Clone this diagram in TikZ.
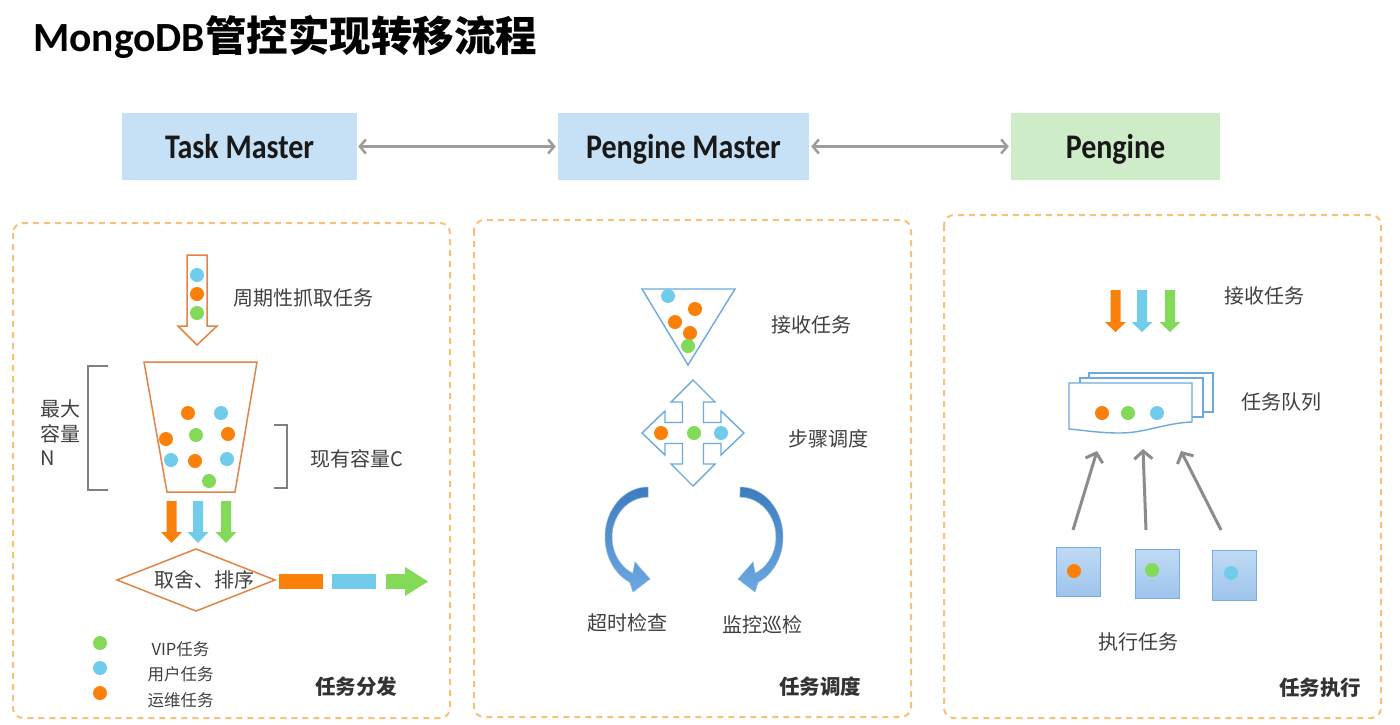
\documentclass[tikz,border=0pt]{standalone}
\usepackage{fontspec}
\setmainfont{Noto Sans CJK SC}
\newfontfamily\carl{Carlito}
\usetikzlibrary{arrows.meta}
\definecolor{dotO}{RGB}{250,128,10}
\definecolor{dotB}{RGB}{112,204,234}
\definecolor{dotG}{RGB}{130,218,88}
\definecolor{panelc}{RGB}{248,192,120}
\definecolor{boxblue}{RGB}{198,224,245}
\definecolor{boxgreen}{RGB}{207,236,201}
\definecolor{outO}{RGB}{226,132,70}
\definecolor{outB}{RGB}{108,170,222}
\definecolor{txt}{RGB}{64,64,64}
\definecolor{arrg}{RGB}{140,140,140}
\definecolor{brk}{RGB}{128,128,128}
\definecolor{curvetop}{RGB}{62,124,190}
\definecolor{curvebot}{RGB}{108,168,224}
\definecolor{sqtop}{RGB}{192,218,244}
\definecolor{sqbot}{RGB}{158,196,236}
\definecolor{sqborder}{RGB}{125,172,222}
\tikzset{
  panel/.style={draw=panelc, line width=2pt, dash pattern=on 6pt off 5pt, rounded corners=10pt},
  master/.style={minimum height=67pt, inner sep=0pt, text=black!90, text height=23pt, text depth=0pt,
    font=\carl\bfseries\fontsize{30}{36}\selectfont},
  lbl/.style={text=txt, font=\fontsize{20}{24}\selectfont, inner sep=0pt},
  lblb/.style={text=black!80, font=\fontsize{20.5}{24}\selectfont\bfseries, inner sep=0pt},
  legend/.style={text=txt, font=\fontsize{16.5}{20}\selectfont, inner sep=0pt},
  outlineO/.style={draw=outO, line width=1.5pt},
  outlineB/.style={draw=outB, line width=1.4pt},
  darrow/.style={draw=arrg!85, line width=2.5pt, {Straight Barb[length=6pt,width=14pt]}-{Straight Barb[length=6pt,width=14pt]}},
  garrow/.style={draw=arrg, line width=3pt, -{Straight Barb[length=8pt,width=18pt]}},
  curvearr/.style={top color=curvetop, bottom color=curvebot, draw=curvebot!80!white, line width=0.5pt},
  sq/.style={top color=sqtop, bottom color=sqbot, draw=sqborder, line width=1pt}
}
\newcommand\tdot[3]{\fill[#3] (#1,#2) circle[radius=7];}
\newcommand\sarrow[5]{\fill[#5] ({#1-5},#2) -- ({#1+5},#2) -- ({#1+5},#3) -- ({#1+10.5},#3) -- (#1,#4) -- ({#1-10.5},#3) -- ({#1-5},#3) -- cycle;}
\newcommand\mtext[1]{\scalebox{1}[1.15]{#1}}
\begin{document}
\begin{tikzpicture}[x=1pt,y=-1pt]
\useasboundingbox[fill=white] (0,0) rectangle (1400,724);

% title
\node[anchor=base west, inner sep=0pt, text=black] (title) at (33,51)
  {\fontsize{41.5}{48}\selectfont\bfseries{\carl MongoDB}管控实现转移流程};

% master boxes
\node[master, fill=boxblue, minimum width=235pt] (tm) at (239.5,146.5) {\mtext{Task Master}};
\node[master, fill=boxblue, minimum width=251pt] (pm) at (683.5,146.5) {\mtext{Pengine Master}};
\node[master, fill=boxgreen, minimum width=209pt] (pe) at (1115.5,146.5) {\mtext{Pengine}};
\draw[darrow] ([xshift=1pt]tm.east) -- ([xshift=-2pt]pm.west);
\draw[darrow] ([xshift=2pt]pm.east) -- ([xshift=-2pt]pe.west);

% panels
\draw[panel] (13,223) rectangle (450,718);
\draw[panel] (474,220) rectangle (911,717);
\draw[panel] (944,215) rectangle (1381,718);

% ---------- panel 1 ----------
\draw[outlineO] (187,255) -- (207,255) -- (207,326) -- (217,326) -- (197,345) -- (178,326) -- (187,326) -- cycle;
\tdot{197}{275}{dotB}
\tdot{197}{294}{dotO}
\tdot{197}{313}{dotG}
\node[lbl] (fetch) at (303,298) {周期性抓取任务};

\draw[outlineO] (144,362) -- (257,362) -- (235,492) -- (167,492) -- cycle;
\tdot{188}{413}{dotO}
\tdot{221}{413}{dotB}
\tdot{166}{439}{dotO}
\tdot{196}{435}{dotG}
\tdot{228}{434}{dotO}
\tdot{171}{460}{dotB}
\tdot{195}{461}{dotO}
\tdot{227}{459}{dotB}
\tdot{209}{481}{dotG}

\draw[brk, line width=2.6pt] (108,366) -- (88,366) -- (88,490) -- (108,490);
\draw[brk, line width=2.6pt] (274,425) -- (287,425) -- (287,488) -- (274,488);
\node[lbl, anchor=west] (maxa) at (40,409) {最大};
\node[lbl, anchor=west] (maxb) at (40,433.5) {容量};
\node[lbl, anchor=west] (maxc) at (40,458) {N};
\node[lbl] (cur) at (357,459) {现有容量C};

\sarrow{171.5}{501}{532}{543}{dotO}
\sarrow{198}{501}{532}{543}{dotB}
\sarrow{226}{501}{532}{543}{dotG}

\draw[outlineO] (117,580) -- (196,549) -- (275,580) -- (196,611) -- cycle;
\node[lbl] (sel) at (204,580) {取舍、排序};
\fill[dotO] (279,574) rectangle (323,589);
\fill[dotB] (332,574) rectangle (376,589);
\fill[dotG] (386,574) -- (405,574) -- (405,567) -- (428,581.5) -- (405,596) -- (405,589) -- (386,589) -- cycle;

\tdot{100}{643}{dotG}
\tdot{100}{668}{dotB}
\tdot{100}{693}{dotO}
\node[legend] (lg1) at (180.5,649) {VIP任务};
\node[legend] (lg2) at (180.5,674) {用户任务};
\node[legend] (lg3) at (180.5,700) {运维任务};
\node[lblb] (p1t) at (356,687) {任务分发};

% ---------- panel 2 ----------
\draw[outlineB] (642,289) -- (735,289) -- (688,365) -- cycle;
\tdot{668}{296}{dotB}
\tdot{695}{309}{dotO}
\tdot{675}{322}{dotO}
\tdot{690}{333}{dotO}
\tdot{688}{346}{dotG}
\node[lbl] (recv) at (811,325) {接收任务};

\draw[outlineB] (693,380) -- (715,402) -- (703.5,402) -- (703.5,422.5) -- (721,422.5) -- (721,411) -- (744,433) -- (721,455) -- (721,443.5) -- (703.5,443.5) -- (703.5,464) -- (715,464) -- (693,486) -- (671,464) -- (682.5,464) -- (682.5,443.5) -- (665,443.5) -- (665,455) -- (642,433) -- (665,411) -- (665,422.5) -- (682.5,422.5) -- (682.5,402) -- (671,402) -- cycle;
\tdot{661}{433}{dotO}
\tdot{694}{433}{dotG}
\tdot{721}{433}{dotB}
\node[lbl] (step) at (828,439) {步骤调度};

\path[curvearr] (648,487) arc[start angle=270, end angle=115, x radius=43, y radius=50]
  -- (633,592) -- (650,579) -- (635,562) -- (632.8,573.3)
  arc[start angle=115, end angle=270, x radius=36, y radius=40] -- cycle;
\path[curvearr] (740,487) arc[start angle=-90, end angle=65, x radius=43, y radius=50]
  -- (755,592) -- (738,579) -- (753,562) -- (755.2,573.3)
  arc[start angle=65, end angle=-90, x radius=36, y radius=40] -- cycle;
\node[lbl] (tmo) at (627,623) {超时检查};
\node[lbl] (mon) at (762,625) {监控巡检};
\node[lblb] (p2t) at (820,687) {任务调度};

% ---------- panel 3 ----------
\sarrow{1115.5}{290}{322}{332}{dotO}
\sarrow{1142}{290}{322}{332}{dotB}
\sarrow{1170}{290}{322}{332}{dotG}
\node[lbl] (recv2) at (1264,296) {接收任务};

\filldraw[outlineB, fill=white] (1089,373) rectangle (1213,412);
\filldraw[outlineB, fill=white] (1080,378) rectangle (1203,417);
\filldraw[outlineB, fill=white] (1069,383) -- (1192,383) -- (1192,422)
  .. controls (1165,423) and (1145,433) .. (1120,433)
  .. controls (1098,433) and (1082,430) .. (1069,429) -- cycle;
\tdot{1102}{413}{dotO}
\tdot{1128}{413}{dotG}
\tdot{1157}{413}{dotB}
\node[lbl] (queue) at (1281,402) {任务队列};

\coordinate (q1) at (1097,451);
\coordinate (q2) at (1143,449);
\coordinate (q3) at (1181,451);
\coordinate (e1) at (1073,530);
\coordinate (e2) at (1146,530);
\coordinate (e3) at (1221,530);
\draw[garrow] (e1) -- (q1);
\draw[garrow] (e2) -- (q2);
\draw[garrow] (e3) -- (q3);

\path[sq] (1056,547) rectangle (1100,596);
\path[sq] (1135,549) rectangle (1179,598);
\path[sq] (1212,550) rectangle (1256,600);
\tdot{1074}{571}{dotO}
\tdot{1152}{570}{dotG}
\tdot{1231}{573}{dotB}
\node[lbl] (exec) at (1138,642) {执行任务};
\node[lblb] (p3t) at (1320,688) {任务执行};
\end{tikzpicture}
\end{document}
